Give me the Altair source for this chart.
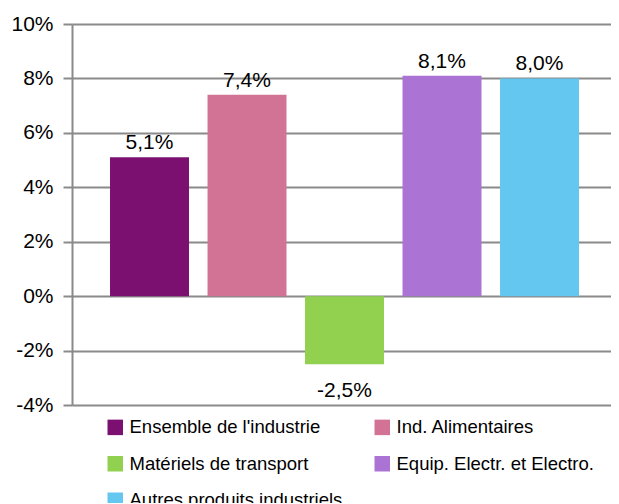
import altair as alt
import pandas as pd

categories = ["Ensemble de l'industrie", "Ind. Alimentaires", "Matériels de transport",
              "Equip. Electr. et Electro.", "Autres produits industriels"]
values = [5.1, 7.4, -2.5, 8.1, 8.0]
colors = ["#7B1070", "#D27396", "#92D050", "#AA73D4", "#63C7F0"]
y_ticks = [-4, -2, 0, 2, 4, 6, 8, 10]

df = pd.DataFrame({"cat": categories, "v": values})

FONT = "Liberation Sans"
W, H = 539, 381

x = alt.X("cat:N", sort=categories, axis=None,
          scale=alt.Scale(paddingInner=0.19, paddingOuter=0.359, align=0.543))
y = alt.Y("v:Q", scale=alt.Scale(domain=[-4, 10], nice=False, zero=False),
          axis=alt.Axis(values=y_ticks, labelExpr="datum.value + '%'", title=None,
                        grid=True, gridColor="#8a8a8a", gridWidth=2,
                        domainColor="#8a8a8a", domainWidth=2,
                        tickColor="#8a8a8a", tickWidth=2, tickSize=9,
                        labelPadding=10, labelFontSize=21, labelFont=FONT,
                        labelColor="#000000"))

bars = alt.Chart(df).mark_bar().encode(
    x=x, y=y, y2=alt.datum(0),
    color=alt.Color("cat:N", sort=categories,
                    scale=alt.Scale(domain=categories, range=colors),
                    legend=alt.Legend(title=None, orient="none", legendX=34, legendY=394,
                                      direction="horizontal",
                                      columns=2, columnPadding=30, rowPadding=17.5,
                                      symbolType="square", symbolSize=240,
                                      symbolStrokeWidth=0, labelOffset=5,
                                      labelFontSize=18.5, labelFont=FONT,
                                      labelColor="#000000", labelLimit=400)),
)

label_expr = "replace(replace(format(datum.v, '.1f'), '.', ','), '\u2212', '-') + '%'"
pos = alt.Chart(df).transform_filter("datum.v >= 0").transform_calculate(
    lab=label_expr).mark_text(baseline="alphabetic", dy=-8, fontSize=21, font=FONT,
                              color="#000000").encode(x=x, y=y, text="lab:N")
neg = alt.Chart(df).transform_filter("datum.v < 0").transform_calculate(
    lab=label_expr).mark_text(baseline="alphabetic", dy=33, fontSize=21, font=FONT,
                              color="#000000").encode(x=x, y=y, text="lab:N")

chart = alt.layer(bars, pos, neg).properties(
    width=W, height=H,
    autosize=alt.AutoSizeParams(type="none"),
    padding={"left": 64, "top": 16, "right": 0, "bottom": 98},
).configure_view(stroke=None)

chart.save("out.html", embed_options={"renderer": "svg", "actions": False})
